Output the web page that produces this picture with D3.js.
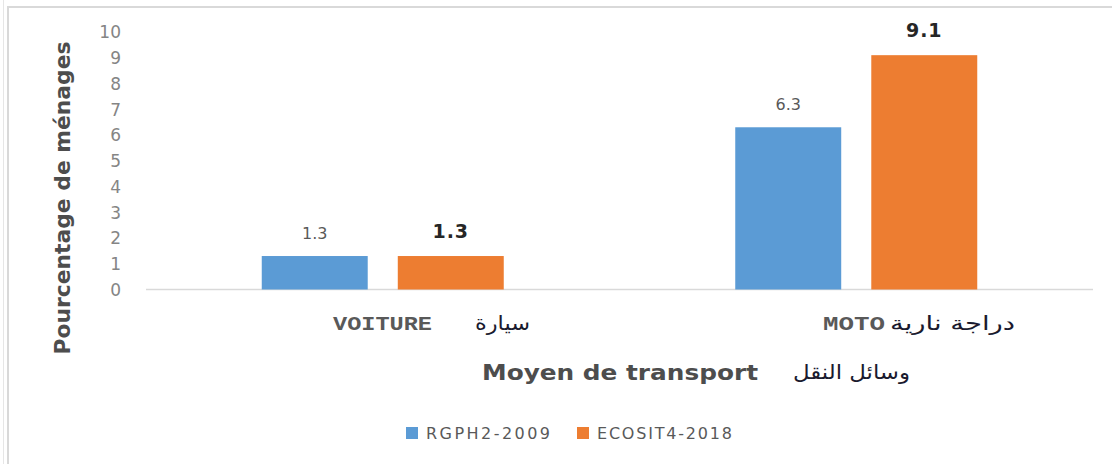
<!DOCTYPE html>
<html><head><meta charset="utf-8">
<script src="https://cdn.jsdelivr.net/npm/d3@7"></script>
<style>body{margin:0;background:#fff}svg{display:block}</style>
</head><body>
<svg id="c" width="1112" height="464"></svg>
<script>
const categories = ["VOITURE", "MOTO"];
const categoriesAr = ["سيارة", "دراجة نارية"];
const seriesNames = ["RGPH2-2009", "ECOSIT4-2018"];
const rgph2009 = [1.3, 6.3];
const ecosit2018 = [1.3, 9.1];
const yTicks = [0,1,2,3,4,5,6,7,8,9,10];
const colors = ["#5b9bd5", "#ed7d31"];

const svg = d3.select("#c");
// frame lines
svg.append("line").attr("x1",3.5).attr("x2",3.5).attr("y1",0).attr("y2",464).attr("stroke","#e6e6e6").attr("stroke-width",1);
svg.append("line").attr("x1",8).attr("x2",8).attr("y1",7).attr("y2",464).attr("stroke","#d9d9d9").attr("stroke-width",2);
svg.append("line").attr("x1",7).attr("x2",1112).attr("y1",7).attr("y2",7).attr("stroke","#d9d9d9").attr("stroke-width",2);

const x0 = d3.scaleBand().domain(categories).range([146, 1093]).paddingInner(0).paddingOuter(0);
const x1 = d3.scaleBand().domain(seriesNames).range([x0.bandwidth()/2 - 121, x0.bandwidth()/2 + 121]).paddingInner(0.221);
const y = d3.scaleLinear().domain([0, 10]).range([289.5, 32]);

// y ticks
const yAxis = d3.axisLeft(y).tickValues(yTicks).tickSize(0).tickPadding(0);
const ga = svg.append("g").attr("transform","translate(121,0)").call(yAxis);
ga.select(".domain").remove();
ga.selectAll("text").attr("font-family","DejaVu Sans").attr("font-size",17).attr("fill","#858585").attr("dy","0.35em");

// baseline
svg.append("line").attr("x1",146).attr("x2",1093).attr("y1",y(0)).attr("y2",y(0)).attr("stroke","#d9d9d9").attr("stroke-width",1.5);

const data = categories.map((c,i)=>({cat:c, vals:[rgph2009[i], ecosit2018[i]]}));
const g = svg.selectAll("g.grp").data(data).join("g").attr("class","grp").attr("transform",d=>`translate(${x0(d.cat)},0)`);
g.selectAll("rect").data(d=>d.vals.map((v,j)=>({v, s:seriesNames[j], j})))
 .join("rect").attr("x",d=>x1(d.s)).attr("width",x1.bandwidth())
 .attr("y",d=>y(d.v)).attr("height",d=>y(0)-y(d.v)).attr("fill",d=>colors[d.j]);
g.selectAll("text.lbl").data(d=>d.vals.map((v,j)=>({v, s:seriesNames[j], j})))
 .join("text").attr("class","lbl")
 .attr("x",d=>x1(d.s)+x1.bandwidth()/2).attr("y",d=>y(d.v)-(d.j===1?18:17))
 .attr("text-anchor","middle")
 .attr("font-family","DejaVu Sans")
 .attr("font-size",d=>d.j===1?19:16)
 .attr("font-weight",d=>d.j===1?"bold":"normal")
 .attr("fill",d=>d.j===1?"#262626":"#595959")
 .attr("letter-spacing",d=>d.j===1?1:0)
 .text(d=>d.v.toFixed(1));

// category labels
const latinX = [333, 823], latinW = [99, 62];
const arabX = [475, 890], arabW = [55, 125];
categories.forEach((c,i)=>{
  svg.append("text").attr("x", latinX[i]).attr("y",330).attr("font-size",20)
    .attr("font-family","Liberation Mono").attr("font-weight","bold").attr("fill","#595959")
    .attr("textLength",latinW[i]).attr("lengthAdjust","spacingAndGlyphs").text(c);
  svg.append("text").attr("x", arabX[i]).attr("y",330).attr("font-family","DejaVu Sans").attr("font-size",20)
    .attr("fill","#1a1a2e").attr("textLength",arabW[i]).attr("lengthAdjust","spacingAndGlyphs").text(categoriesAr[i]);
});

// x axis title
svg.append("text").attr("x",482).attr("y",380).attr("font-family","DejaVu Sans").attr("font-weight","bold").attr("font-size",21).attr("fill","#4d4d4d").attr("textLength",276).attr("lengthAdjust","spacingAndGlyphs").text("Moyen de transport");
svg.append("text").attr("x",793).attr("y",379).attr("font-family","DejaVu Sans").attr("font-size",20).attr("fill","#1a1a2e").attr("textLength",117).attr("lengthAdjust","spacingAndGlyphs").text("وسائل النقل");

// y axis title
svg.append("text").attr("transform","translate(70,198) rotate(-90)").attr("text-anchor","middle").attr("font-family","DejaVu Sans").attr("font-weight","bold").attr("font-size",21).attr("fill","#4d4d4d").attr("textLength",313).attr("lengthAdjust","spacingAndGlyphs").text("Pourcentage de ménages");

// legend
const legX = [406, 577], legW = [124, 135];
seriesNames.forEach((s,i)=>{
  svg.append("rect").attr("x",legX[i]).attr("y",427).attr("width",12).attr("height",12).attr("fill",colors[i]);
  svg.append("text").attr("x",legX[i]+20).attr("y",439).attr("font-family","DejaVu Sans").attr("font-size",16).attr("fill","#595959")
    .attr("textLength",legW[i]).attr("lengthAdjust","spacing").text(s);
});
</script>
</body></html>
